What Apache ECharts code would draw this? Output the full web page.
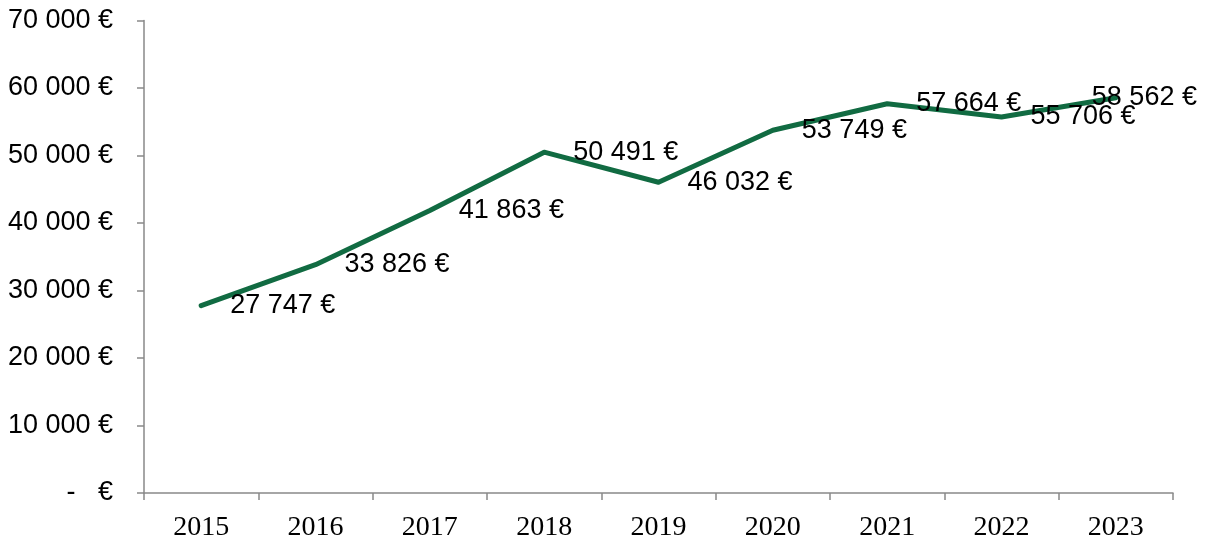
<!DOCTYPE html>
<html>
<head>
<meta charset="utf-8">
<style>
  html, body { margin: 0; padding: 0; background: #ffffff; }
  #chart { width: 1208px; height: 542px; }
</style>
<script src="https://cdn.jsdelivr.net/npm/echarts@6/dist/echarts.min.js"></script>
</head>
<body>
<div id="chart"></div>
<script>
// Yearly amounts in euros
const years = ['2015', '2016', '2017', '2018', '2019', '2020', '2021', '2022', '2023'];
const amounts = [27747, 33826, 41863, 50491, 46032, 53749, 57664, 55706, 58562];

// Value axis range
const yMin = 0;
const yMax = 70000;
const yStep = 10000;

// French-style thousands grouping with a euro suffix
function euro(v) {
  if (v === 0) return '-   €';
  return String(v).replace(/\B(?=(\d{3})+(?!\d))/g, ' ') + ' €';
}

const chart = echarts.init(document.getElementById('chart'), null, { renderer: 'canvas' });

const lastIndex = amounts.length - 1;
const seriesData = amounts.map((v, i) => {
  const item = { value: v };
  // keep the final label inside the plot area
  if (i === lastIndex) item.label = { offset: [-53, 0] };
  return item;
});

const axisGrey = '#898989';

chart.setOption({
  animation: false,
  backgroundColor: '#ffffff',
  grid: { left: 144, right: 35, top: 20.5, bottom: 47, containLabel: false },
  xAxis: {
    type: 'category',
    data: years,
    boundaryGap: true,
    axisLine: { show: true, lineStyle: { color: axisGrey, width: 1.5 } },
    axisTick: { show: true, alignWithLabel: false, length: 7, lineStyle: { color: axisGrey, width: 1.5 } },
    axisLabel: {
      color: '#000000',
      fontFamily: '"Liberation Serif", "DejaVu Serif", serif',
      fontSize: 28,
      margin: 21
    },
    splitLine: { show: false }
  },
  yAxis: {
    type: 'value',
    min: yMin,
    max: yMax,
    interval: yStep,
    axisLine: { show: true, lineStyle: { color: axisGrey, width: 1.5 } },
    axisTick: { show: true, length: 7, lineStyle: { color: axisGrey, width: 1.5 } },
    axisLabel: {
      color: '#000000',
      fontFamily: '"Liberation Sans", Arial, sans-serif',
      fontSize: 27,
      margin: 31,
      formatter: euro
    },
    splitLine: { show: false }
  },
  series: [{
    type: 'line',
    data: seriesData,
    symbol: 'circle',
    symbolSize: 0,
    showSymbol: true,
    lineStyle: { color: '#116b42', width: 5, join: 'round', cap: 'round' },
    itemStyle: { color: '#116b42' },
    label: {
      show: true,
      position: 'right',
      distance: 29,
      color: '#000000',
      fontFamily: '"Liberation Sans", Arial, sans-serif',
      fontSize: 27,
      verticalAlign: 'middle',
      formatter: p => euro(p.value)
    }
  }]
});
</script>
</body>
</html>
